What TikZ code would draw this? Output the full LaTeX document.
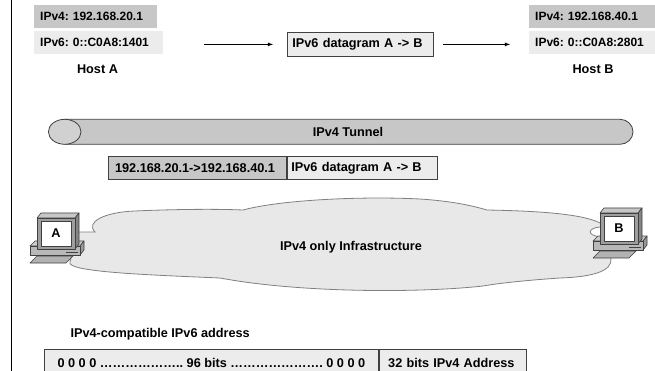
\documentclass[tikz,border=0pt]{standalone}
\usepackage{fontspec}
\setmainfont{Liberation Sans}
\usepackage{tikz}
\usetikzlibrary{positioning}
\tikzset{>=latex}
\definecolor{darkfill}{gray}{0.78}
\definecolor{lightfill}{gray}{0.925}
\definecolor{cloudfill}{gray}{0.91}
\definecolor{edge}{gray}{0.25}
\tikzset{
  lbl/.style={font=\fontsize{12.7}{15}\selectfont\bfseries\frenchspacing},
  addr/.style={lbl, rectangle, inner ysep=0pt, align=left, minimum height=23pt, anchor=north west},
  hostaddr/.style={addr, font=\fontsize{12}{15}\selectfont\bfseries\frenchspacing, inner xsep=6pt},
  framed/.style={addr, draw=edge, line width=0.8pt},
  pcline/.style={draw=edge, line width=0.6pt, line join=round},
  pics/pc/.style={code={
    % keyboard
    \draw[pcline,fill=black!30] (7,43) -- (43,43) -- (36,50) -- (0,50) -- cycle;
    % system box
    \draw[pcline,fill=black!20] (0,33) -- (5,28) -- (54,28) -- (50,33) -- cycle;
    \draw[pcline,fill=black!40] (50,33) -- (54,28) -- (54,37) -- (50,42) -- cycle;
    \draw[pcline,fill=black!28] (0,33) rectangle (50,42);
    \draw[pcline] (36,39) -- (48,39);
    % monitor
    \draw[pcline,fill=black!22] (7,5) -- (11,0) -- (49,0) -- (45,5) -- cycle;
    \draw[pcline,fill=black!48] (45,5) -- (49,0) -- (49,31) -- (45,36) -- cycle;
    \draw[pcline,fill=black!38] (7,5) rectangle (45,36);
    \draw[pcline,fill=white] (11,8) rectangle (41,33);
  }}
}

\begin{document}
\begin{tikzpicture}[x=1pt,y=-1pt]
			\useasboundingbox (0,0) rectangle (655,371);
			\draw[line width=1.6pt] (11.5,0) -- (11.5,371);

			% the two hosts and the native ipv6 path
			\node[hostaddr, fill=darkfill, text width=111pt] (v4a) at (34,5) {IPv4: 192.168.20.1};
			\node[hostaddr, fill=lightfill, text width=117pt] (v6a) at (34,31) {IPv6: 0::C0A8:1401};
			\node[lbl] (hostA) at (97.5,69) {Host A};
			\node[framed, fill=lightfill, inner xsep=5pt, text width=136pt, minimum height=24pt] (dgram) at (287,32) {IPv6 datagram A -> B};
			\node[hostaddr, fill=darkfill, text width=114pt] (v4b) at (529,5) {IPv4: 192.168.40.1};
			\node[hostaddr, fill=lightfill, text width=114pt] (v6b) at (529,31) {IPv6: 0::C0A8:2801};
			\node[lbl] (hostB) at (593,69) {Host B};
			\draw[->, line width=0.8pt, shorten <=41pt, shorten >=14pt] (v6a.east |- dgram.west) -- (dgram.west);
			\draw[->, line width=0.8pt, shorten <=9pt, shorten >=19pt] (dgram.east) -- (v6b.west |- dgram.east);

			% tunnel
			\draw[draw=edge, line width=0.8pt, fill=darkfill] (64.7,119.3) -- (620,119.3)
				arc[start angle=-90, end angle=90, x radius=13, y radius=12.5] -- (64.7,144.3) -- cycle;
			\draw[draw=edge, line width=0.8pt, fill=black!18] (64.7,131.8) ellipse[x radius=16.3, y radius=12.5];
			\node[lbl] (tunnel) at (348,131.8) {IPv4 Tunnel};
			\node[framed, fill=darkfill, inner xsep=7pt, text width=164pt, minimum height=23.3pt] (hdr4) at (107.7,155.7) {192.168.20.1->192.168.40.1};
			\node[framed, fill=lightfill, inner xsep=4.5pt, text width=141pt, minimum height=23.3pt, anchor=north west] (hdr6) at (hdr4.north east) {IPv6 datagram A -> B};

			% ipv4 cloud
			\draw[draw=black!50, line width=0.8pt, fill=cloudfill] (78,232) -- (95,232)
				.. controls (85,222) and (105,212) .. (135,211)
				.. controls (180,209) and (220,209) .. (243,210)
				.. controls (280,200) and (360,196) .. (420,199)
				.. controls (450,201) and (470,205) .. (487,210)
				.. controls (540,211) and (585,214) .. (602,224)
				-- (600,227)
				.. controls (588,228) and (586,235) .. (600,237)
				-- (611,258)
				.. controls (613,272) and (590,277) .. (560,278)
				.. controls (530,280) and (500,283) .. (483,286)
				.. controls (420,293) and (300,293) .. (220,278)
				.. controls (150,275) and (65,272) .. (70,262)
				-- cycle;
			\node[lbl] (ipv4net) at (351,247) {IPv4 only Infrastructure};
			\pic at (30,213) {pc};
			\node[lbl] (pcA) at (56,233.5) {A};
			\pic at (593,208) {pc};
			\node[lbl] (pcB) at (619,228.5) {B};

			% address format
			\node[lbl, anchor=west] (compat) at (67,334.7) {IPv4-compatible IPv6 address};
			\node[lbl, draw=edge, line width=0.8pt, fill=lightfill, inner ysep=0pt, minimum width=334pt, minimum height=26pt, anchor=north west] (zeros) at (44,349.3) {0 0 0 0 ……………….. 96 bits …………………. 0 0 0 0};
			\node[framed, fill=lightfill, inner xsep=9pt, text width=129pt, minimum height=26pt, anchor=north west] (v4part) at (zeros.north east) {32 bits IPv4 Address};
\end{tikzpicture}
\end{document}
